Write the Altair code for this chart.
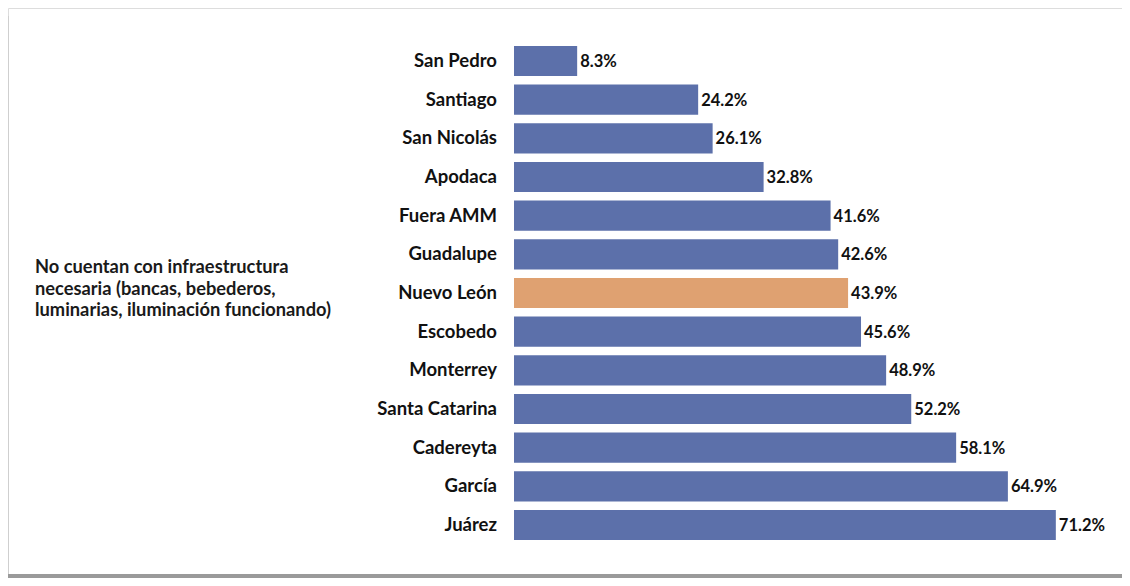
import altair as alt
import pandas as pd

categories = ["San Pedro", "Santiago", "San Nicolás", "Apodaca", "Fuera AMM", "Guadalupe",
              "Nuevo León", "Escobedo", "Monterrey", "Santa Catarina", "Cadereyta", "García", "Juárez"]
values = [8.3, 24.2, 26.1, 32.8, 41.6, 42.6, 43.9, 45.6, 48.9, 52.2, 58.1, 64.9, 71.2]
highlight = ["Nuevo León"]
side_text = "No cuentan con infraestructura\nnecesaria (bancas, bebederos,\nluminarias, iluminación funcionando)"

BLUE = "#5C70AA"
ORANGE = "#DFA171"
FONT = "Lato"

df = pd.DataFrame({
    "cat": categories,
    "val": values,
    "label": [f"{v}%" for v in values],
    "grp": ["hi" if c in highlight else "base" for c in categories],
})

W, H = 1114, 570
x_scale = alt.Scale(domain=[0, 80], range=[506, 506 + 80 * 7.61])
y_scale = alt.Scale(domain=categories, range=[33.7, 536.3], paddingInner=0.22, paddingOuter=0.11)

base = alt.Chart(df)

bars = base.mark_bar().encode(
    x=alt.X("val:Q", scale=x_scale, axis=None),
    y=alt.Y("cat:N", scale=y_scale, axis=None, sort=categories),
    color=alt.Color("grp:N", scale=alt.Scale(domain=["base", "hi"], range=[BLUE, ORANGE]), legend=None),
)

vals = base.mark_text(align="left", baseline="middle", dx=3, dy=1, font=FONT, fontWeight="bold",
                      fontSize=16.5, color="#111").encode(
    x=alt.X("val:Q", scale=x_scale),
    y=alt.Y("cat:N", scale=y_scale, sort=categories),
    text="label:N",
)

cats = base.mark_text(align="right", baseline="middle", font=FONT, fontWeight="bold",
                      fontSize=18.5, color="#111").encode(
    x=alt.value(489),
    y=alt.Y("cat:N", scale=y_scale, sort=categories),
    text="cat:N",
)

side = alt.Chart(pd.DataFrame({"t": [side_text]})).mark_text(
    align="left", baseline="middle", font=FONT, fontWeight="bold", fontSize=18.3,
    lineBreak="\n", lineHeight=21.5, color="#1a1a1a").encode(
    x=alt.value(27), y=alt.value(260), text="t:N")

frame_df = pd.DataFrame({"k": [1]})
left_edge = alt.Chart(frame_df).mark_rule(color="#cfcfcf", strokeWidth=2).encode(
    x=alt.value(0), y=alt.value(8), y2=alt.value(570))
bottom_edge = alt.Chart(frame_df).mark_rule(color="#9a9a9a", strokeWidth=4).encode(
    x=alt.value(0), x2=alt.value(W), y=alt.value(568))
top_edge = alt.Chart(frame_df).mark_rule(color="#f5f5f5", strokeWidth=2).encode(
    x=alt.value(0), x2=alt.value(W), y=alt.value(-3))

chart = alt.layer(bars, vals, cats, side, left_edge, bottom_edge, top_edge).properties(
    width=W, height=H, padding=0, autosize=alt.AutoSizeParams(type="none"),
).configure_view(stroke=None).configure(background="white")

chart.save("out.html", embed_options={"renderer": "svg", "actions": False})
